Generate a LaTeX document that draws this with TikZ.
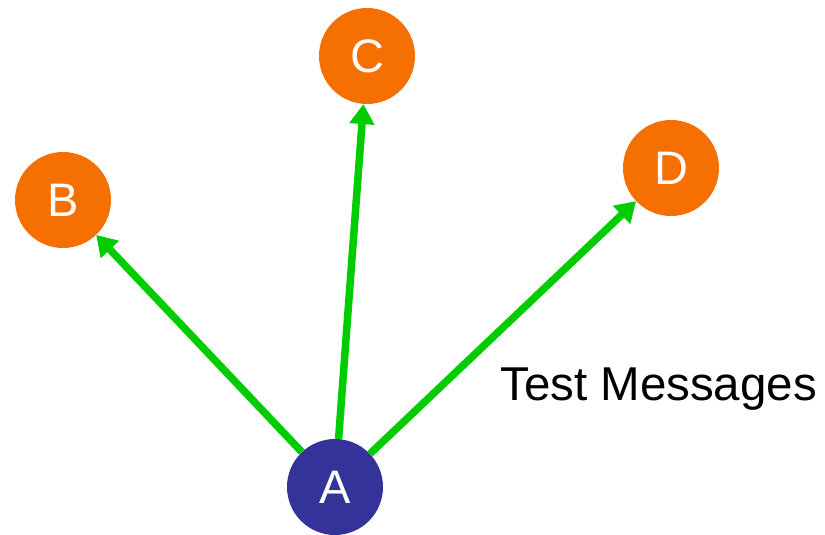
\documentclass[tikz,border=0pt]{standalone}
\usepackage{fontspec}
\setmainfont{Liberation Sans}
\usetikzlibrary{arrows.meta}
\definecolor{peerorange}{HTML}{F57000}
\definecolor{sourceblue}{HTML}{333399}
\definecolor{msggreen}{HTML}{00CC00}
\begin{document}
\begin{tikzpicture}[x=1pt,y=-1pt,
  peer/.style={circle,fill=peerorange,text=white,minimum size=96pt,inner sep=0pt,font=\fontsize{47}{47}\selectfont},
  source/.style={peer,fill=sourceblue},
  msg/.style={draw=msggreen,line width=7.5pt,-{Triangle[length=20pt,width=24pt]}}]
  \useasboundingbox (0,0) rectangle (825,535);
  \node[source] (A) at (335,487) {A};
  \node[peer] (B) at (63,200) {B};
  \node[peer] (C) at (367,56) {C};
  \node[peer] (D) at (671,168) {D};
  \draw[msg] (A) -- (B);
  \draw[msg] (A) -- (C);
  \draw[msg] (A) -- (D);
  \node[anchor=base west,inner sep=0pt,font=\fontsize{47.5}{47.5}\selectfont] (label) at (500,400) {Test Messages};
\end{tikzpicture}
\end{document}
